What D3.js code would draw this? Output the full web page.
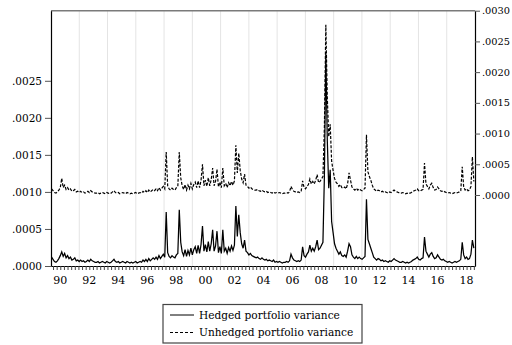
<!DOCTYPE html>
<html>
<head>
<meta charset="utf-8">
<script src="https://cdn.jsdelivr.net/npm/d3@7"></script>
<style>
  body { margin: 0; background: #fff; }
  text { font-family: "DejaVu Serif", serif; fill: #000; }
</style>
</head>
<body>
<div id="chart"></div>
<script>
// series sampled every 0.1 year from 1989.9, values in units of 1e-4
const startYear = 1989.9;
const stepYear = 0.1;

const hedged = [
    1.2,
    0.9,0.6,0.5,0.7,1.0,1.4,1.9,1.3,1.7,1.1,
    1.4,1.0,1.2,0.8,0.9,1.1,0.7,0.8,0.6,0.8,
    0.6,0.7,0.5,0.6,0.8,0.6,0.9,0.7,0.6,0.5,
    0.5,0.6,0.4,0.5,0.6,0.5,0.4,0.6,0.5,0.4,
    0.5,0.7,0.9,0.6,0.5,0.6,0.4,0.5,0.6,0.5,
    0.4,0.6,0.5,0.4,0.5,0.4,0.5,0.6,0.4,0.5,
    0.6,0.5,0.8,0.6,0.9,0.6,1.0,0.7,0.9,1.1,
    0.9,1.2,0.9,1.4,1.0,1.3,1.6,1.2,7.3,1.8,
    1.3,1.1,1.4,1.2,1.1,1.5,1.7,7.6,3.2,1.9,
    1.4,2.2,1.3,2.1,1.5,2.4,1.5,2.2,2.6,1.7,
    2.8,1.7,2.9,5.4,2.0,2.9,1.9,3.3,2.0,3.0,
    4.9,2.0,2.7,4.7,1.8,2.6,1.7,4.9,2.0,2.4,
    1.7,2.5,2.0,2.7,2.1,2.8,8.1,4.0,6.9,4.5,
    3.0,2.4,3.5,2.0,1.8,1.5,1.7,1.4,1.3,1.2,
    1.1,1.2,1.0,0.9,1.1,0.9,0.8,0.9,0.7,0.8,
    0.7,0.6,0.8,0.5,0.6,0.5,0.6,0.5,0.4,0.5,
    0.5,0.6,0.5,0.7,1.6,1.1,0.8,0.7,0.6,0.7,
    0.6,0.8,2.6,1.4,1.2,1.6,1.9,2.8,2.0,2.4,
    2.0,2.6,3.5,2.2,2.4,2.8,3.2,12.0,28.8,17.0,
    10.5,13.0,6.0,4.5,3.0,2.4,2.0,1.6,1.9,1.4,
    1.3,1.5,1.2,2.0,3.0,2.6,1.5,1.2,1.0,1.3,
    1.0,1.2,1.0,0.9,1.1,1.3,9.0,3.6,3.0,2.4,
    1.8,1.2,1.0,0.8,1.0,0.9,0.7,0.8,0.6,0.7,
    0.6,0.5,0.7,0.6,0.8,1.0,0.8,0.7,0.6,0.5,
    0.5,0.6,0.5,0.4,0.5,0.4,0.5,0.6,0.8,0.9,
    1.0,1.2,0.9,0.8,1.0,1.1,3.9,2.0,1.6,1.2,
    1.6,1.8,1.3,1.0,1.1,1.5,1.2,0.9,0.8,0.9,
    0.7,0.6,0.5,0.6,0.5,0.4,0.5,0.6,0.5,0.6,
    0.7,0.9,3.2,1.5,1.0,1.2,0.9,1.0,1.6,3.5,
    2.4
];

const unhedged = [
    1.0,
    0.7,0.4,0.3,0.5,0.8,1.2,2.7,1.2,1.6,0.9,
    1.2,0.8,1.0,0.6,0.7,0.9,0.5,0.6,0.4,0.6,
    0.4,0.5,0.3,0.4,0.6,0.4,0.7,0.5,0.4,0.3,
    0.3,0.4,0.2,0.3,0.4,0.3,0.2,0.4,0.3,0.2,
    0.3,0.5,0.7,0.4,0.3,0.4,0.2,0.3,0.4,0.3,
    0.2,0.4,0.3,0.2,0.3,0.2,0.3,0.4,0.2,0.3,
    0.4,0.3,0.6,0.4,0.7,0.4,0.8,0.5,0.7,0.9,
    0.7,1.0,0.7,1.2,0.8,1.1,1.4,1.0,7.0,1.5,
    1.0,0.8,1.1,0.9,0.8,1.2,1.4,7.0,2.8,1.5,
    0.9,1.7,0.8,1.6,1.0,1.9,1.0,1.7,2.1,1.2,
    2.3,1.2,2.4,5.0,1.5,2.4,1.4,2.8,1.5,2.5,
    4.4,1.5,2.2,4.2,1.3,2.1,1.2,4.4,1.5,1.9,
    1.2,2.0,1.5,2.2,1.6,2.3,8.1,3.6,6.8,4.0,
    2.6,2.0,3.4,1.6,1.4,1.1,1.3,1.0,0.9,0.8,
    0.8,0.9,0.7,0.6,0.8,0.6,0.5,0.6,0.4,0.5,
    0.4,0.3,0.5,0.3,0.4,0.3,0.4,0.3,0.2,0.3,
    0.3,0.4,0.3,0.5,1.4,0.9,0.6,0.5,0.4,0.5,
    0.4,0.6,2.3,1.2,1.0,1.4,1.7,2.6,1.8,2.2,
    1.8,2.4,3.3,2.0,2.2,2.6,3.0,11.0,27.7,16.0,
    9.5,11.5,5.5,4.0,2.7,2.1,1.8,1.4,1.7,1.2,
    1.1,1.3,1.0,1.8,3.6,2.4,1.3,1.0,0.8,1.1,
    0.8,1.0,0.8,0.7,0.9,1.1,9.8,3.8,3.0,2.4,
    1.6,1.0,0.8,0.6,0.8,0.7,0.5,0.6,0.4,0.5,
    0.4,0.3,0.5,0.4,0.6,0.8,0.6,0.5,0.4,0.3,
    0.3,0.4,0.3,0.2,0.3,0.2,0.3,0.4,0.6,0.7,
    0.8,1.0,0.7,0.6,0.8,0.9,5.2,1.8,1.4,1.0,
    1.6,1.9,1.2,0.8,0.9,1.3,1.0,0.7,0.6,0.7,
    0.5,0.4,0.3,0.4,0.3,0.2,0.3,0.4,0.3,0.4,
    0.5,0.7,4.6,1.3,0.8,1.0,0.7,0.8,1.4,6.2,
    2.2
];

const yearLabels = d3.range(1990, 2019, 2);
const leftTicks = [0, 0.0005, 0.0010, 0.0015, 0.0020, 0.0025];
const rightTicks = [0, 0.0005, 0.0010, 0.0015, 0.0020, 0.0025, 0.0030];
const legendItems = [
    { name: 'Hedged portfolio variance', dash: null },
    { name: 'Unhedged portfolio variance', dash: '3,2' }
];

function drawChart() {
    const width = 512, height = 345;
    const plot = { left: 51, right: 475, top: 10.7, bottom: 266 };

    const svg = d3.select('#chart').append('svg')
        .attr('width', width)
        .attr('height', height);

    const x = d3.scaleLinear().domain([1989.86, 2019.08]).range([plot.left, plot.right]);
    const yLeft = d3.scaleLinear().domain([0, 0.003446]).range([plot.bottom, plot.top]);
    const yRight = d3.scaleLinear().domain([-0.001156, 0.0030]).range([plot.bottom, plot.top]);

    // vertical grid, 15 equal bands across the plot
    const dom = x.domain();
    const gridYears = d3.range(1, 15).map(i => dom[0] + i * (dom[1] - dom[0]) / 15);
    svg.append('g')
        .selectAll('line')
        .data(gridYears)
        .join('line')
        .attr('x1', d => x(d)).attr('x2', d => x(d))
        .attr('y1', plot.top).attr('y2', plot.bottom)
        .attr('stroke', '#e4e4e4')
        .attr('stroke-width', 1);

    svg.append('clipPath').attr('id', 'clip')
        .append('rect')
        .attr('x', plot.left).attr('y', plot.top)
        .attr('width', plot.right - plot.left)
        .attr('height', plot.bottom - plot.top);

    const lineLeft = d3.line()
        .x((d, i) => x(startYear + i * stepYear))
        .y(d => yLeft(d * 1e-4));
    const lineRight = d3.line()
        .x((d, i) => x(startYear + i * stepYear))
        .y(d => yRight(d * 1e-4));

    const lines = svg.append('g').attr('clip-path', 'url(#clip)');
    lines.append('path')
        .datum(hedged)
        .attr('d', lineLeft)
        .attr('fill', 'none')
        .attr('stroke', '#000')
        .attr('stroke-width', 1.25);
    lines.append('path')
        .datum(unhedged)
        .attr('d', lineRight)
        .attr('fill', 'none')
        .attr('stroke', '#000')
        .attr('stroke-width', 1.2)
        .attr('stroke-dasharray', '3,1.6');

    // frame
    svg.append('line')
        .attr('x1', plot.left).attr('x2', plot.right)
        .attr('y1', plot.top).attr('y2', plot.top)
        .attr('stroke', '#7a7a7a').attr('stroke-width', 1.5);

    const fmt = v => d3.format('.4f')(v).replace(/^0/, '');

    // left axis
    const leftAxis = svg.append('g')
        .attr('transform', `translate(${plot.left},0)`)
        .call(d3.axisLeft(yLeft).tickValues(leftTicks).tickFormat(fmt).tickSize(6).tickSizeOuter(0));
    leftAxis.select('.domain').attr('stroke', '#000').attr('stroke-width', 1.2);
    leftAxis.selectAll('.tick line').attr('stroke', '#555');
    leftAxis.selectAll('text').attr('font-size', 10.5).attr('font-family', '"DejaVu Serif", serif').attr('x', -9);

    // right axis (labels shrunk a little so they stay inside the page)
    const rightAxis = svg.append('g')
        .attr('transform', `translate(${plot.right},0)`)
        .call(d3.axisRight(yRight).tickValues(rightTicks).tickFormat(fmt).tickSize(5).tickSizeOuter(0));
    rightAxis.select('.domain').attr('stroke', '#000').attr('stroke-width', 1.2);
    rightAxis.selectAll('.tick line').attr('stroke', '#555');
    rightAxis.selectAll('text').attr('font-size', 9.8).attr('font-family', '"DejaVu Serif", serif').attr('x', 7);

    // bottom axis: quarterly ticks, labels centred on the year
    const quarters = d3.range(1990, 2019.01, 0.25);
    const bottomAxis = svg.append('g')
        .attr('transform', `translate(0,${plot.bottom})`)
        .call(d3.axisBottom(x).tickValues(quarters).tickFormat('').tickSize(4).tickSizeOuter(0));
    bottomAxis.select('.domain').attr('stroke', '#000').attr('stroke-width', 1.2);
    bottomAxis.selectAll('.tick line').attr('stroke', '#444');

    svg.append('g')
        .selectAll('text')
        .data(yearLabels)
        .join('text')
        .attr('x', d => x(d + 0.5))
        .attr('y', plot.bottom + 17.5)
        .attr('text-anchor', 'middle')
        .attr('font-size', 11)
        .text(d => String(d % 100).padStart(2, '0'));

    // legend
    const legend = svg.append('g');
    legend.append('rect')
        .attr('x', 163).attr('y', 304.5)
        .attr('width', 199).attr('height', 38.5)
        .attr('fill', '#fff')
        .attr('stroke', '#444')
        .attr('stroke-width', 1.2);
    const rows = legend.selectAll('g.row')
        .data(legendItems)
        .join('g')
        .attr('class', 'row')
        .attr('transform', (d, i) => `translate(0,${315 + i * 17.5})`);
    rows.append('line')
        .attr('x1', 170).attr('x2', 194)
        .attr('stroke', '#000')
        .attr('stroke-width', 1)
        .attr('stroke-dasharray', d => d.dash);
    rows.append('text')
        .attr('x', 199)
        .attr('y', 3.5)
        .attr('font-size', 10.6)
        .text(d => d.name);
}

drawChart();
</script>
</body>
</html>
